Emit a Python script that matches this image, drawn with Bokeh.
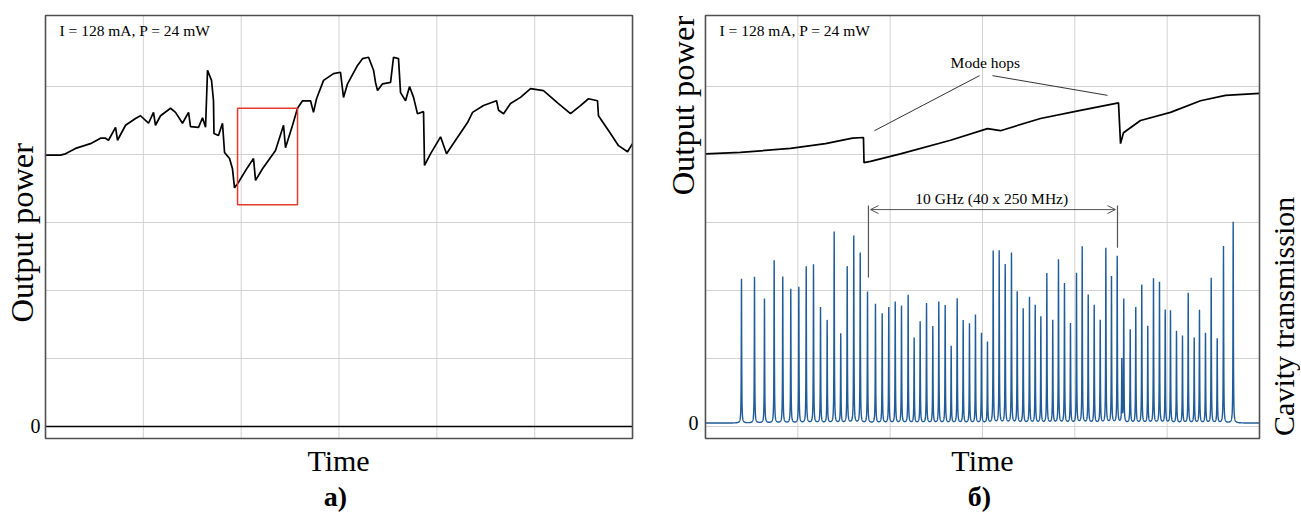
import numpy as np
from bokeh.plotting import figure
from bokeh.models import Range1d, Label, Arrow, OpenHead
from bokeh.layouts import row
from bokeh.embed import file_html
from bokeh.resources import INLINE

# ---------------- data (time and power in grid divisions) ----------------
# panel a: output power vs time
a_time = [0, 0.153, 0.204, 0.307, 0.460, 0.562, 0.613, 0.644, 0.716, 0.736,
          0.818, 0.920, 0.971, 1.053, 1.104, 1.124, 1.176, 1.278, 1.329, 1.400,
          1.462, 1.482, 1.564, 1.605, 1.636, 1.656, 1.697, 1.717, 1.722, 1.768,
          1.809, 1.830, 1.881, 1.911, 1.932, 1.963, 2.065, 2.126, 2.147, 2.218,
          2.351, 2.433, 2.453, 2.525, 2.576, 2.627, 2.709, 2.739, 2.770, 2.842,
          2.944, 3.015, 3.046, 3.087, 3.189, 3.240, 3.302, 3.353, 3.373, 3.394,
          3.445, 3.527, 3.557, 3.608, 3.629, 3.680, 3.721, 3.762, 3.802, 3.864,
          3.874, 3.935, 4.038, 4.099, 4.191, 4.314, 4.365, 4.477, 4.610, 4.631,
          4.682, 4.753, 4.855, 4.958, 5.090, 5.234, 5.366, 5.468, 5.550, 5.642,
          5.652, 5.775, 5.857, 5.949, 6.0]
a_power = [3.99, 3.99, 4.01, 4.09, 4.16, 4.24, 4.24, 4.21, 4.40, 4.21,
           4.43, 4.53, 4.57, 4.46, 4.62, 4.43, 4.57, 4.68, 4.62, 4.46,
           4.62, 4.41, 4.40, 4.54, 4.40, 5.24, 5.09, 4.79, 4.31, 4.28,
           4.46, 4.03, 3.94, 3.79, 3.51, 3.57, 3.81, 3.94, 3.62, 3.79,
           4.06, 4.43, 4.10, 4.43, 4.68, 4.79, 4.79, 4.62, 4.82, 5.09,
           5.19, 5.21, 4.84, 5.04, 5.31, 5.41, 5.43, 5.24, 5.06, 4.94,
           5.04, 5.06, 5.43, 5.41, 4.91, 4.79, 5.00, 4.84, 4.60, 4.63,
           3.84, 4.01, 4.26, 4.01, 4.21, 4.47, 4.62, 4.72, 4.79, 4.65,
           4.60, 4.75, 4.84, 4.97, 4.94, 4.76, 4.60, 4.72, 4.82, 4.79,
           4.57, 4.31, 4.13, 4.04, 4.16]
a_zero_time = [0, 6]
a_zero_power = [0, 0]
zoom_box = dict(left=1.963, right=2.576, bottom=3.26, top=4.68)

# panel b: output power vs time
b_time = [0, 0.379, 0.921, 1.300, 1.592, 1.711, 1.717, 1.787, 2.112, 2.654, 3.054,
          3.195, 3.628, 4.061, 4.473, 4.495, 4.527, 4.711, 5.036, 5.361, 5.632, 6.0]
b_power = [4.01, 4.03, 4.09, 4.16, 4.24, 4.25, 3.88, 3.90, 4.01, 4.21, 4.38,
           4.35, 4.53, 4.65, 4.76, 4.16, 4.32, 4.50, 4.62, 4.79, 4.87, 4.90]

# panel b: cavity transmission peaks (time, height)
peak_time = [0.390, 0.531, 0.639, 0.744, 0.837, 0.924, 1.011, 1.091, 1.170, 1.246,
             1.318, 1.394, 1.465, 1.535, 1.606, 1.676, 1.755, 1.841, 1.914, 1.985,
             2.055, 2.123, 2.195, 2.260, 2.325, 2.394, 2.462, 2.527, 2.596, 2.661,
             2.726, 2.791, 2.859, 2.924, 2.989, 3.054, 3.116, 3.181, 3.246, 3.314,
             3.376, 3.441, 3.509, 3.571, 3.632, 3.697, 3.761, 3.823, 3.888, 3.953,
             4.018, 4.080, 4.145, 4.210, 4.275, 4.336, 4.397, 4.459, 4.509, 4.530,
             4.600, 4.660, 4.725, 4.790, 4.852, 4.917, 4.979, 5.036, 5.101, 5.166,
             5.228, 5.293, 5.350, 5.415, 5.477, 5.542, 5.610, 5.715]
peak_height = [2.12, 2.15, 1.83, 2.39, 2.15, 1.97, 2.00, 2.30, 2.33, 1.70,
               1.51, 2.81, 1.31, 2.30, 2.75, 2.50, 1.93, 1.75, 1.61, 1.70,
               1.78, 1.72, 1.88, 1.25, 1.49, 1.76, 1.42, 1.78, 1.73, 1.13,
               1.83, 1.51, 1.46, 1.59, 1.32, 1.19, 2.53, 2.53, 2.33, 2.50,
               1.93, 1.68, 1.85, 1.73, 1.56, 2.20, 1.51, 2.40, 2.05, 1.46,
               2.20, 2.59, 1.88, 1.73, 1.51, 2.57, 2.15, 2.45, 0.92, 1.81,
               1.37, 1.70, 2.03, 1.42, 2.12, 2.07, 1.66, 1.65, 1.35, 1.28,
               1.91, 1.25, 1.66, 1.32, 2.13, 1.24, 2.60, 2.96]
trans_baseline = 0.05
peak_halfwidth = 0.0025

# annotations (panel b)
hop_line1 = dict(x=[2.968, 1.830], y=[5.16, 4.35])
hop_line2 = dict(x=[3.108, 4.354], y=[5.16, 4.87])
span_arrow = dict(x0=1.787, x1=4.440, y=3.19)
span_mark1 = dict(x=[1.765, 1.765], y=[3.25, 2.19])
span_mark2 = dict(x=[4.462, 4.462], y=[3.25, 2.63])

# plot box and grid (in data units)
T0, T1 = 0.0, 6.0
Y0, Y1 = -0.176, 6.044
grid_t = [1, 2, 3, 4, 5]
grid_v = [0, 1, 2, 3, 4, 5]

SERIF = "Liberation Serif"
BLUE = "#1f5c99"
GRID = "#d2d2d2"
FRAME = "#505050"
H = 512


def make_fig(width, xr):
    p = figure(width=width, height=H, min_border=0,
               x_axis_type=None, y_axis_type=None,
               x_range=Range1d(*xr), y_range=Range1d(-1.265, 6.265),
               output_backend="svg", toolbar_location=None)
    p.outline_line_color = None
    p.background_fill_color = "white"
    p.border_fill_color = "white"
    p.grid.visible = False
    # grid lines inside the plot box
    p.segment(x0=grid_t, x1=grid_t, y0=[Y0] * len(grid_t), y1=[Y1] * len(grid_t),
              line_color=GRID, line_width=1)
    p.segment(x0=[T0] * len(grid_v), x1=[T1] * len(grid_v), y0=grid_v, y1=grid_v,
              line_color=GRID, line_width=1)
    return p


def box(p):
    p.quad(left=[T0], right=[T1], bottom=[Y0], top=[Y1], fill_color=None,
           line_color=FRAME, line_width=1.6)


def lab(p, x, y, text, size, align="center", baseline="middle", angle=0.0, style="normal", color="black"):
    p.add_layout(Label(x=x, y=y, text=text, text_font=SERIF, text_font_size=size,
                       text_align=align, text_baseline=baseline, angle=angle,
                       text_font_style=style, text_color=color))


# ---------------- panel a ----------------
p1 = make_fig(660, (-0.460, 6.286))
p1.line(a_zero_time, a_zero_power, line_color="black", line_width=1.5)
p1.line(a_time, a_power, line_color="black", line_width=1.7)
p1.quad(left=[zoom_box["left"]], right=[zoom_box["right"]], bottom=[zoom_box["bottom"]],
        top=[zoom_box["top"]], fill_color=None, line_color="#e53a2e", line_width=1.5)
box(p1)
lab(p1, 0.143, 5.82, "I = 128 mA, P = 24 mW", "15.5px", align="left")
lab(p1, -0.245, 2.85, "Output power", "32.5px", angle=np.pi / 2)
lab(p1, -0.051, 0.0, "0", "20px", align="right")
lab(p1, 2.995, -0.50, "Time", "30px")
lab(p1, 2.964, -1.03, "а)", "28px", style="bold")

# ---------------- panel b ----------------
p2 = make_fig(640, (-0.487, 6.444))
tt = np.sort(np.concatenate([np.linspace(0, 6, 7001), np.array(peak_time)]))
sig = np.full_like(tt, trans_baseline)
for t0, h in zip(peak_time, peak_height):
    sig += h * peak_halfwidth ** 2 / (peak_halfwidth ** 2 + (tt - t0) ** 2)
p2.line(tt, sig, line_color=BLUE, line_width=1.4)
p2.line(b_time, b_power, line_color="black", line_width=1.7)

p2.line(hop_line1["x"], hop_line1["y"], line_color="#333333", line_width=1)
p2.line(hop_line2["x"], hop_line2["y"], line_color="#333333", line_width=1)
p2.line(span_mark1["x"], span_mark1["y"], line_color="#555555", line_width=1.2)
p2.line(span_mark2["x"], span_mark2["y"], line_color="#555555", line_width=1.2)
p2.add_layout(Arrow(x_start=span_arrow["x0"], y_start=span_arrow["y"],
                    x_end=span_arrow["x1"], y_end=span_arrow["y"],
                    line_color="#555555", line_width=1,
                    start=OpenHead(size=8, line_color="#555555", line_width=1),
                    end=OpenHead(size=8, line_color="#555555", line_width=1)))
box(p2)
lab(p2, 3.03, 5.35, "Mode hops", "15.5px")
lab(p2, 3.10, 3.35, "10 GHz (40 x 250 MHz)", "15.5px")
lab(p2, 0.152, 5.82, "I = 128 mA, P = 24 mW", "15.5px", align="left")
lab(p2, -0.238, 4.72, "Output power", "32.5px", angle=np.pi / 2)
lab(p2, -0.076, 0.044, "0", "20px", align="right")
lab(p2, 6.26, 1.62, "Cavity transmission", "30px", angle=np.pi / 2)
lab(p2, 3.00, -0.50, "Time", "30px")
lab(p2, 2.968, -1.03, "б)", "28px", style="bold")

layout = row(p1, p2)
open("out.html", "w").write(file_html(layout, INLINE))
